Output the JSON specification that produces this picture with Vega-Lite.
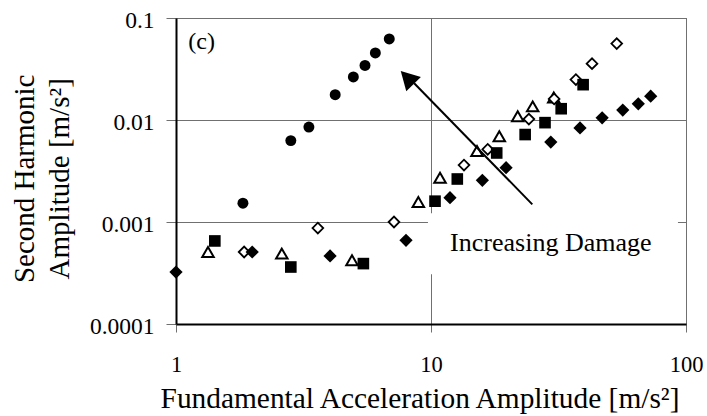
{
  "$schema": "https://vega.github.io/schema/vega-lite/v6.json",
  "width": 510,
  "height": 306,
  "autosize": {"type": "none"},
  "padding": {"left": 176, "top": 18, "right": 21, "bottom": 92},
  "background": "white",
  "config": {
    "font": "Liberation Serif",
    "view": {"stroke": "#404040", "strokeWidth": 1},
    "axis": {
      "labelFont": "Liberation Serif",
      "titleFont": "Liberation Serif",
      "labelColor": "black",
      "titleColor": "black",
      "titleFontWeight": "normal",
      "grid": true,
      "gridColor": "#707070",
      "gridWidth": 1,
      "domainColor": "black",
      "domainWidth": 2,
      "tickColor": "#707070",
      "tickWidth": 1
    }
  },
  "datasets": {
    "pts": [
      {"s": "tri", "x": 1.335, "y": 0.000508},
      {"s": "tri", "x": 2.60, "y": 0.00049},
      {"s": "tri", "x": 4.90, "y": 0.000422},
      {"s": "tri", "x": 8.92, "y": 0.00157},
      {"s": "tri", "x": 10.85, "y": 0.00272},
      {"s": "tri", "x": 15.15, "y": 0.00497},
      {"s": "tri", "x": 18.53, "y": 0.00692},
      {"s": "tri", "x": 21.88, "y": 0.0109},
      {"s": "tri", "x": 25.05, "y": 0.0136},
      {"s": "tri", "x": 30.3, "y": 0.0166},
      {"s": "odia", "x": 1.85, "y": 0.000508},
      {"s": "odia", "x": 3.60, "y": 0.000873},
      {"s": "odia", "x": 7.16, "y": 0.001},
      {"s": "odia", "x": 13.47, "y": 0.00362},
      {"s": "odia", "x": 16.69, "y": 0.00516},
      {"s": "odia", "x": 24.2, "y": 0.0102},
      {"s": "odia", "x": 30.4, "y": 0.0161},
      {"s": "odia", "x": 37.0, "y": 0.0249},
      {"s": "odia", "x": 42.8, "y": 0.0357},
      {"s": "odia", "x": 53.5, "y": 0.0561},
      {"s": "sq", "x": 1.42, "y": 0.000652},
      {"s": "sq", "x": 2.82, "y": 0.000362},
      {"s": "sq", "x": 5.43, "y": 0.000391},
      {"s": "sq", "x": 10.37, "y": 0.0016},
      {"s": "sq", "x": 12.68, "y": 0.00264},
      {"s": "sq", "x": 18.1, "y": 0.00475},
      {"s": "sq", "x": 23.4, "y": 0.0072},
      {"s": "sq", "x": 28.0, "y": 0.00942},
      {"s": "sq", "x": 32.4, "y": 0.0129},
      {"s": "sq", "x": 39.5, "y": 0.0222},
      {"s": "fdia", "x": 1.0, "y": 0.000323},
      {"s": "fdia", "x": 1.99, "y": 0.000508},
      {"s": "fdia", "x": 4.02, "y": 0.000465},
      {"s": "fdia", "x": 7.98, "y": 0.000662},
      {"s": "fdia", "x": 11.87, "y": 0.00173},
      {"s": "fdia", "x": 15.9, "y": 0.00256},
      {"s": "fdia", "x": 19.7, "y": 0.00341},
      {"s": "fdia", "x": 29.5, "y": 0.00608},
      {"s": "fdia", "x": 38.4, "y": 0.00836},
      {"s": "fdia", "x": 46.9, "y": 0.0105},
      {"s": "fdia", "x": 56.5, "y": 0.0125},
      {"s": "fdia", "x": 65.0, "y": 0.0144},
      {"s": "fdia", "x": 72.7, "y": 0.0171},
      {"s": "circ", "x": 1.83, "y": 0.00153},
      {"s": "circ", "x": 2.82, "y": 0.00628},
      {"s": "circ", "x": 3.32, "y": 0.00853},
      {"s": "circ", "x": 4.21, "y": 0.0177},
      {"s": "circ", "x": 4.96, "y": 0.0264},
      {"s": "circ", "x": 5.51, "y": 0.0343},
      {"s": "circ", "x": 6.05, "y": 0.0454},
      {"s": "circ", "x": 6.86, "y": 0.0623}
    ],
    "ann": [
      {"kind": "box", "x": 9.73, "x2": 93, "y": 0.001216, "y2": 0.000307},
      {"kind": "arrow", "x": 24.96, "y": 0.00149, "x2": 8.59, "y2": 0.02291},
      {"kind": "head", "x": 7.61, "y": 0.03022},
      {"kind": "label", "x": 1.117, "y": 0.0501, "text": "(c)"},
      {"kind": "note", "x": 29.5, "y": 0.000516, "text": "Increasing Damage"}
    ]
  },
  "encoding": {
    "x": {
      "field": "x",
      "type": "quantitative",
      "scale": {"type": "log", "domain": [1, 100], "nice": false},
      "axis": {
        "values": [1, 10, 100],
        "format": "~g",
        "labelFlush": false,
        "labelFontSize": 22.5,
        "labelPadding": 21,
        "tickSize": 8,
        "title": "Fundamental Acceleration Amplitude [m/s²]",
        "titleFontSize": 29.4,
        "titleX": 243.5,
        "titleY": 83.3,
        "titleAlign": "center",
        "titleBaseline": "alphabetic"
      }
    },
    "y": {
      "field": "y",
      "type": "quantitative",
      "scale": {"type": "log", "domain": [0.0001, 0.1], "nice": false},
      "axis": {
        "values": [0.0001, 0.001, 0.01, 0.1],
        "format": "~g",
        "labelFlush": false,
        "labelFontSize": 23.5,
        "labelPadding": 12,
        "labelOffset": 2,
        "tickSize": 10,
        "title": ["Second Harmonic", "Amplitude [m/s²]"],
        "titleFontSize": 29,
        "titleLineHeight": 35,
        "titleAngle": -90,
        "titleX": -142.5,
        "titleY": 160.3,
        "titleAlign": "center",
        "titleBaseline": "alphabetic"
      }
    }
  },
  "layer": [
    {
      "data": {"name": "ann"},
      "transform": [{"filter": "datum.kind == 'box'"}],
      "mark": {"type": "rect", "fill": "white", "strokeWidth": 0},
      "encoding": {"x2": {"field": "x2"}, "y2": {"field": "y2"}}
    },
    {
      "data": {"name": "pts"},
      "transform": [{"filter": "datum.s == 'tri'"}],
      "mark": {"type": "point", "shape": "triangle-up", "size": 132, "fill": "white", "stroke": "black", "strokeWidth": 2, "opacity": 1}
    },
    {
      "data": {"name": "pts"},
      "transform": [{"filter": "datum.s == 'odia'"}],
      "mark": {"type": "point", "shape": "diamond", "size": 115, "fill": "white", "stroke": "black", "strokeWidth": 1.8, "opacity": 1}
    },
    {
      "data": {"name": "pts"},
      "transform": [{"filter": "datum.s == 'sq'"}],
      "mark": {"type": "point", "shape": "square", "size": 135, "fill": "black", "strokeWidth": 0, "opacity": 1}
    },
    {
      "data": {"name": "pts"},
      "transform": [{"filter": "datum.s == 'fdia'"}],
      "mark": {"type": "point", "shape": "diamond", "size": 175, "fill": "black", "strokeWidth": 0, "opacity": 1}
    },
    {
      "data": {"name": "pts"},
      "transform": [{"filter": "datum.s == 'circ'"}],
      "mark": {"type": "point", "shape": "circle", "size": 120, "fill": "black", "strokeWidth": 0, "opacity": 1}
    },
    {
      "data": {"name": "ann"},
      "transform": [{"filter": "datum.kind == 'arrow'"}],
      "mark": {"type": "rule", "color": "black", "strokeWidth": 2},
      "encoding": {"x2": {"field": "x2"}, "y2": {"field": "y2"}}
    },
    {
      "data": {"name": "ann"},
      "transform": [{"filter": "datum.kind == 'head'"}],
      "mark": {"type": "point", "shape": "M0,0L-0.56,1L0.56,1Z", "size": 1340, "angle": 315.5, "fill": "black", "strokeWidth": 0, "opacity": 1}
    },
    {
      "data": {"name": "ann"},
      "transform": [{"filter": "datum.kind == 'label'"}],
      "mark": {"type": "text", "align": "left", "baseline": "alphabetic", "fontSize": 24, "font": "Liberation Serif", "color": "black"},
      "encoding": {"text": {"field": "text"}}
    },
    {
      "data": {"name": "ann"},
      "transform": [{"filter": "datum.kind == 'note'"}],
      "mark": {"type": "text", "align": "center", "baseline": "alphabetic", "fontSize": 26, "font": "Liberation Serif", "color": "black"},
      "encoding": {"text": {"field": "text"}}
    }
  ]
}
